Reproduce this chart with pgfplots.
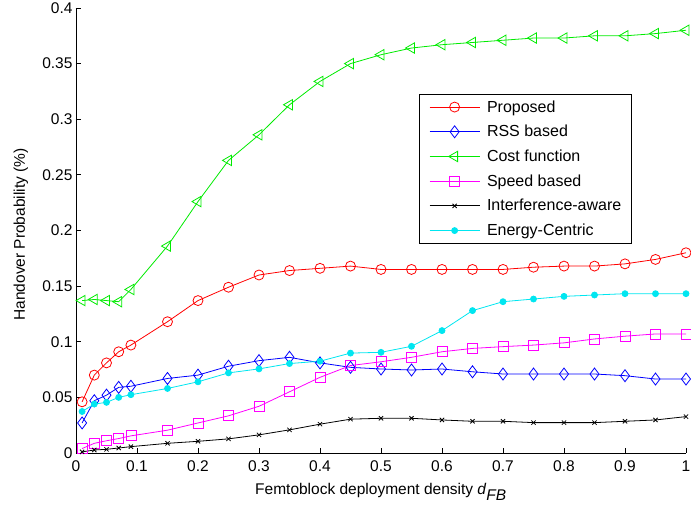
\documentclass[border=0pt]{standalone}
\usepackage{pgfplots}
\pgfplotsset{compat=1.18}
\usepackage{fontspec}
\setmainfont{Liberation Sans}
\pgfplotstableread{
x red blue green magenta black cyan
0.01 0.046 0.027 0.137 0.004 0.001 0.0373
0.03 0.070 0.047 0.138 0.0087 0.0027 0.044
0.05 0.081 0.052 0.137 0.011 0.0033 0.0455
0.07 0.091 0.059 0.136 0.013 0.0045 0.050
0.09 0.097 0.060 0.147 0.0154 0.0057 0.0524
0.15 0.118 0.067 0.186 0.0205 0.0087 0.058
0.20 0.137 0.070 0.226 0.027 0.0105 0.064
0.25 0.149 0.078 0.263 0.0334 0.0127 0.072
0.30 0.160 0.083 0.286 0.042 0.0163 0.0756
0.35 0.164 0.086 0.313 0.055 0.0208 0.0804
0.40 0.166 0.081 0.334 0.068 0.0259 0.0825
0.45 0.168 0.077 0.350 0.0786 0.0304 0.0898
0.50 0.165 0.0755 0.358 0.082 0.0312 0.0905
0.55 0.165 0.0746 0.364 0.086 0.0312 0.0959
0.60 0.165 0.0755 0.367 0.091 0.0297 0.110
0.65 0.165 0.073 0.369 0.094 0.0285 0.128
0.70 0.165 0.071 0.371 0.0956 0.0285 0.136
0.75 0.167 0.071 0.373 0.097 0.0273 0.1384
0.80 0.168 0.071 0.373 0.099 0.0273 0.1408
0.85 0.168 0.071 0.375 0.1025 0.0273 0.142
0.90 0.170 0.0695 0.375 0.105 0.0285 0.1432
0.95 0.174 0.0665 0.377 0.107 0.0297 0.1432
1.00 0.180 0.0665 0.380 0.107 0.0327 0.1432
}\datatable
\begin{document}
\begin{tikzpicture}
\begin{axis}[
  scale only axis,
  width=610pt, height=445pt,
  xmin=0, xmax=1, ymin=0, ymax=0.4,
  axis lines=left,
  axis line style={-, line width=0.8pt},
  tick align=inside,
  major tick length=5pt,
  tick style={line width=0.8pt, black},
  xtick={0,0.1,...,1.0},
  ytick={0,0.05,...,0.4},
  xticklabels={0,0.1,0.2,0.3,0.4,0.5,0.6,0.7,0.8,0.9,1},
  yticklabels={0,0.05,0.1,0.15,0.2,0.25,0.3,0.35,0.4},
  /pgf/number format/assume math mode=true,
  ticklabel style={font=\fontsize{15.5}{18}\selectfont},
  xticklabel style={yshift=-4pt},
  xlabel={Femtoblock deployment density \textit{d}$_{\textit{FB}}$},
  ylabel={Handover Probability (\%)},
  every axis x label/.style={at={([yshift=-42pt]axis description cs:0.5,0)}, anchor=base, font=\fontsize{15.5}{18}\selectfont},
  every axis y label/.style={at={([xshift=-51pt]axis description cs:0,0.491)}, rotate=90, anchor=base, font=\fontsize{15.5}{18}\selectfont},
  every axis plot/.append style={line width=0.8pt},
  legend style={at={(0.562,0.806)}, anchor=north west, draw=black, line width=0.8pt, fill=white,
    font=\fontsize{16}{18}\selectfont, inner xsep=10pt, inner ysep=0pt, row sep=0pt,
    nodes={inner ysep=0pt, inner xsep=0pt, minimum height=24.7pt}},
  legend cell align=left,
  legend image code/.code={\draw[mark repeat=2,mark phase=2] plot coordinates {(0pt,0pt)(25pt,0pt)(50pt,0pt)}; \path (57pt,0pt);},
]
\addplot[color={rgb,255:red,255;green,0;blue,0}, mark=o, mark size=5pt] table[x=x,y=red] {\datatable};
\addlegendentry{Proposed}
\addplot[color={rgb,255:red,0;green,0;blue,255}, mark=diamond, mark size=6pt] table[x=x,y=blue] {\datatable};
\addlegendentry{RSS based}
\addplot[color={rgb,255:red,0;green,235;blue,0}, mark=triangle, mark size=6pt, mark options={rotate=90}] table[x=x,y=green] {\datatable};
\addlegendentry{Cost function}
\addplot[color={rgb,255:red,255;green,0;blue,255}, mark=square, mark size=5pt] table[x=x,y=magenta] {\datatable};
\addlegendentry{Speed based}
\addplot[color=black, mark=x, mark size=3pt] table[x=x,y=black] {\datatable};
\addlegendentry{Interference-aware}
\addplot[color={rgb,255:red,0;green,230;blue,240}, mark=*, mark size=3pt] table[x=x,y=cyan] {\datatable};
\addlegendentry{Energy-Centric}
\end{axis}
\pgfresetboundingbox
\path[use as bounding box] ([xshift=-76pt,yshift=-54pt]current axis.south west) rectangle ([xshift=5pt,yshift=8pt]current axis.north east);
\end{tikzpicture}
\end{document}
